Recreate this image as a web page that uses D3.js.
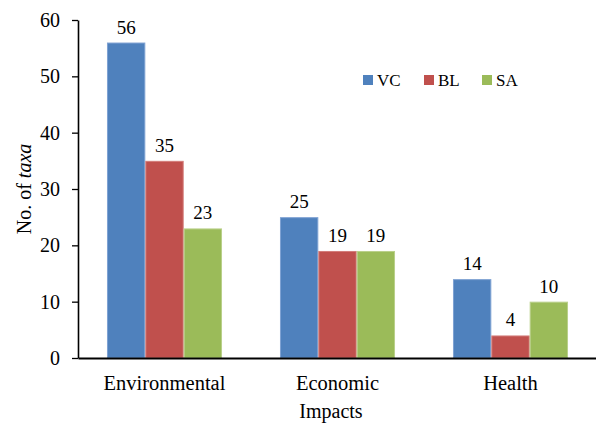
<!DOCTYPE html>
<html><head><meta charset="utf-8">
<script src="https://cdn.jsdelivr.net/npm/d3@7"></script>
<style>body{margin:0;background:#fff}svg{display:block}text{font-family:"Liberation Serif","Times New Roman",serif;fill:#000}</style>
</head><body><svg id="c" width="596" height="423"></svg>
<script>
const categories = ["Environmental", "Economic", "Health"];
const seriesNames = ["VC", "BL", "SA"];
const VC = [56, 25, 14];
const BL = [35, 19, 4];
const SA = [23, 19, 10];
const yTicks = [0, 10, 20, 30, 40, 50, 60];
const colors = ["#4F81BD", "#C0504D", "#9BBB59"];
const edgeColors = ["#7FA2D3", "#D37C79", "#B9D08A"];
const seriesValues = [VC, BL, SA];

(function () {
const svg = d3.select("#c");
const FONT = "'Liberation Serif', 'Times New Roman', serif";
const pLeft = 78, pRight = 597, pTop = 20, pBottom = 358;
const x0 = d3.scaleBand().domain(categories).range([pLeft, pRight]).paddingInner(0.335).paddingOuter(0.1675);
const x1 = d3.scaleBand().domain(seriesNames).range([0, x0.bandwidth()]);
const y = d3.scaleLinear().domain([0, 60]).range([pBottom, pTop]);

categories.forEach((c, ci) => {
  seriesNames.forEach((s, si) => {
    const v = seriesValues[si][ci];
    svg.append("rect")
      .attr("x", x0(c) + x1(s) + 0.5)
      .attr("y", y(v) + 0.5)
      .attr("width", x1.bandwidth() - 1)
      .attr("height", y(0) - y(v) - 0.5)
      .attr("fill", colors[si])
      .attr("stroke", edgeColors[si])
      .attr("stroke-width", 1);
    svg.append("text")
      .attr("x", x0(c) + x1(s) + x1.bandwidth() / 2)
      .attr("y", y(v) - 9)
      .attr("text-anchor", "middle")
      .style("font-family", FONT)
      .attr("font-size", 19)
      .text(v);
  });
});

const yAxis = svg.append("g").attr("transform", `translate(${pLeft},0)`)
  .call(d3.axisLeft(y).tickValues(yTicks).tickSize(6).tickSizeOuter(0).tickPadding(12));
yAxis.select(".domain").attr("stroke", "#000").attr("stroke-width", 1.6);
yAxis.selectAll(".tick line").attr("stroke", "#000").attr("stroke-width", 1.3);
yAxis.selectAll(".tick text").attr("font-size", 20).style("font-family", FONT).attr("fill", "#000");

const xAxis = svg.append("g").attr("transform", `translate(0,${pBottom})`)
  .call(d3.axisBottom(x0).tickSize(0).tickSizeOuter(0).tickPadding(17));
xAxis.select(".domain").attr("stroke", "#000").attr("stroke-width", 1.8);
xAxis.selectAll(".tick text").attr("font-size", 20.5).style("font-family", FONT).attr("fill", "#000");

svg.append("text").attr("x", 331).attr("y", 418)
  .attr("text-anchor", "middle").attr("font-size", 20).style("font-family", FONT).text("Impacts");
const yt = svg.append("text").attr("transform", "translate(31,189) rotate(-90)")
  .attr("text-anchor", "middle").attr("font-size", 20).style("font-family", FONT);
yt.append("tspan").text("No. of ");
yt.append("tspan").attr("font-style", "italic").text("taxa");

const legX = [363, 424, 482];
seriesNames.forEach((s, i) => {
  svg.append("rect").attr("x", legX[i]).attr("y", 75).attr("width", 10).attr("height", 10).attr("fill", colors[i]);
  svg.append("text").attr("x", legX[i] + 14).attr("y", 86).attr("font-size", 17).style("font-family", FONT).text(s);
});
})();
</script></body></html>
